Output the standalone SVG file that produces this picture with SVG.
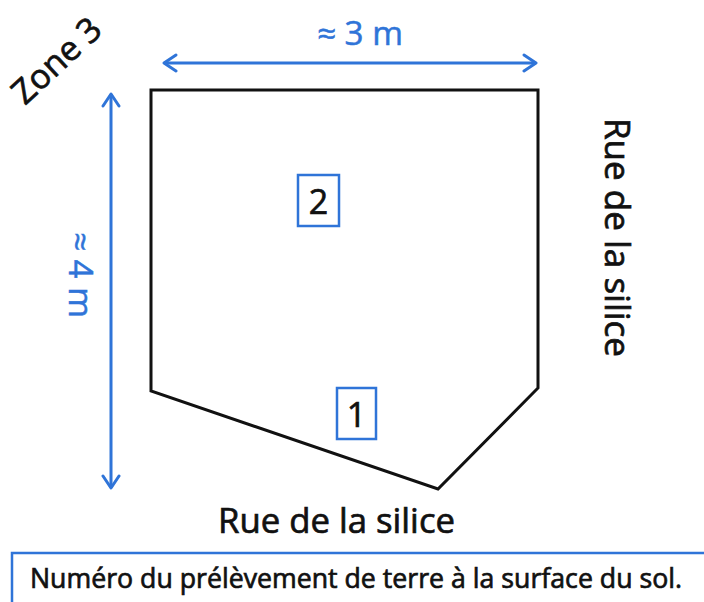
<svg xmlns="http://www.w3.org/2000/svg" width="704" height="602" viewBox="0 0 704 602">
<style>
  .t { font-family: "Open Sans", "Liberation Sans", sans-serif; fill: #111; stroke: #111; stroke-width: 0.7; }
  .b { font-family: "Open Sans", "Liberation Sans", sans-serif; fill: #2f74d8; stroke: #2f74d8; stroke-width: 0.5; }
  .box { fill: #fff; stroke: #2f74d8; stroke-width: 2.5; }
  .dim { fill: none; stroke: #2f74d8; stroke-width: 3; }
</style>
<defs>
  <marker id="chev" viewBox="-14 -10 16 20" markerWidth="16" markerHeight="20" refX="0" refY="0" orient="auto-start-reverse" markerUnits="userSpaceOnUse">
    <path d="M-12,-8 L0,0 L-12,8" fill="none" stroke="#2f74d8" stroke-width="3" stroke-linecap="round" stroke-linejoin="round"/>
  </marker>
</defs>
<rect width="704" height="602" fill="#fff"/>

<g id="parcel">
  <polygon points="151,90 538,90 538,388 438,489 151,391" fill="none" stroke="#111" stroke-width="3" stroke-linejoin="miter"/>
</g>

<g id="connectors">
  <line class="dim" x1="164" y1="63" x2="536" y2="63" marker-start="url(#chev)" marker-end="url(#chev)"/>
  <line class="dim" x1="111" y1="94" x2="111" y2="488" marker-start="url(#chev)" marker-end="url(#chev)"/>
</g>

<g id="label-width">
  <text class="b" x="317" y="45" font-size="32" textLength="86" lengthAdjust="spacingAndGlyphs">≈ 3 m</text>
</g>
<g id="label-height">
  <text class="b" transform="translate(69,232) rotate(90)" font-size="32" textLength="86" lengthAdjust="spacingAndGlyphs">≈ 4 m</text>
</g>

<g id="zone">
  <text class="t" transform="translate(25,106) rotate(-43)" font-size="34">Zone 3</text>
</g>

<g id="street-right">
  <text class="t" transform="translate(605,118) rotate(90)" font-size="35" textLength="239" lengthAdjust="spacingAndGlyphs">Rue de la silice</text>
</g>
<g id="street-bottom">
  <text class="t" x="218" y="533" font-size="35" textLength="237" lengthAdjust="spacingAndGlyphs">Rue de la silice</text>
</g>

<g id="sample-2">
  <rect class="box" x="298" y="175" width="41" height="51"/>
  <text class="t" x="318.5" y="214" font-size="34" text-anchor="middle">2</text>
</g>
<g id="sample-1">
  <rect class="box" x="337" y="388" width="39" height="51"/>
  <text class="t" x="356.5" y="427" font-size="34" text-anchor="middle">1</text>
</g>

<g id="legend">
  <rect class="box" x="12" y="553" width="700" height="60"/>
  <text class="t" x="30" y="588" font-size="27" textLength="652" lengthAdjust="spacingAndGlyphs">Numéro du prélèvement de terre à la surface du sol.</text>
</g>
</svg>
